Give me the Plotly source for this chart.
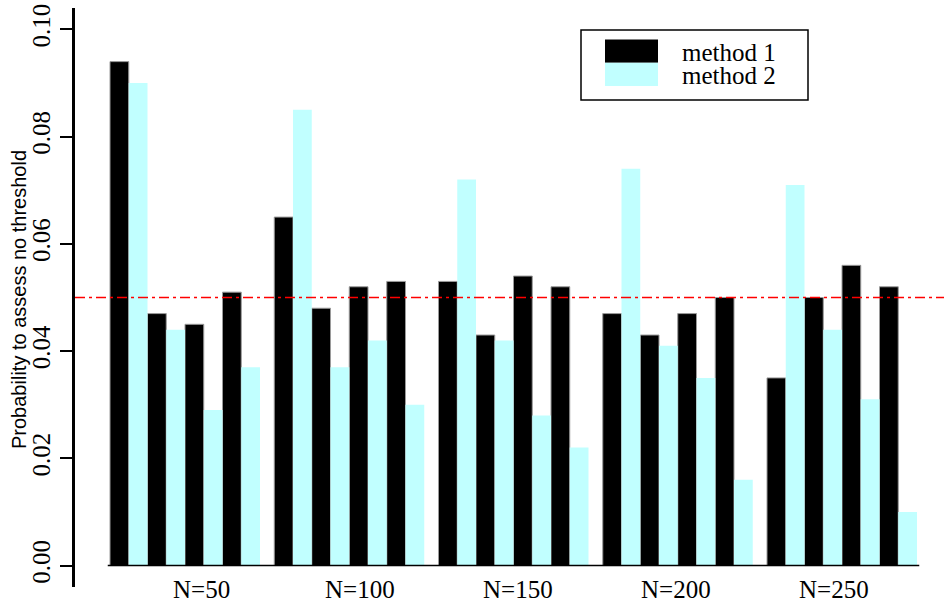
import plotly.graph_objects as go

# ---- data -------------------------------------------------------------
groups = ["N=50", "N=100", "N=150", "N=200", "N=250"]
series_names = ["method 1", "method 2"]

# four settings per sample size, one value per method
method1 = [
    [0.094, 0.047, 0.045, 0.051],
    [0.065, 0.048, 0.052, 0.053],
    [0.053, 0.043, 0.054, 0.052],
    [0.047, 0.043, 0.047, 0.050],
    [0.035, 0.050, 0.056, 0.052],
]
method2 = [
    [0.090, 0.044, 0.029, 0.037],
    [0.085, 0.037, 0.042, 0.030],
    [0.072, 0.042, 0.028, 0.022],
    [0.074, 0.041, 0.035, 0.016],
    [0.071, 0.044, 0.031, 0.010],
]
y_ticks = [0.00, 0.02, 0.04, 0.06, 0.08, 0.10]
y_tick_labels = ["0.00", "0.02", "0.04", "0.06", "0.08", "0.10"]
threshold = 0.05

# ---- styling / geometry -----------------------------------------------
W, H = 944, 604
ML, MR, MT, MB = 75, 0, 8, 17
colors = ["#000000", "#C1FFFF"]
SERIF = "Liberation Serif, Times New Roman, serif"
SANS = "Liberation Sans, Arial, sans-serif"

GROUP_STEP = 8.76          # distance between group starts, in bar widths
LABEL_START, LABEL_STEP = 4.89, 8.43
BAR_PX = 18.75             # pixel width of one bar
FIRST_BAR_PX = 110         # pixel position of first bar's left edge
x_range = [(ML - FIRST_BAR_PX) / BAR_PX, (W - MR - FIRST_BAR_PX) / BAR_PX]

pw, ph = W - ML - MR, H - MT - MB


def px(xp):
    return (xp - ML) / pw


def py(yp):
    return 1 - (yp - MT) / ph


# bar positions: each group holds 4 adjacent pairs (method 1, method 2)
xs = [[], []]
ys = [[], []]
for g in range(len(groups)):
    for p in range(len(method1[g])):
        base = g * GROUP_STEP + 2 * p
        xs[0].append(base + 0.5)
        ys[0].append(method1[g][p])
        xs[1].append(base + 1.5)
        ys[1].append(method2[g][p])

fig = go.Figure()
fig.add_trace(go.Bar(
    x=xs[0], y=ys[0], width=1, name=series_names[0],
    marker=dict(color=colors[0], line=dict(color="#9a9a9a", width=1)),
))
fig.add_trace(go.Bar(
    x=xs[1], y=ys[1], width=1, name=series_names[1],
    marker=dict(color=colors[1], line=dict(width=0)),
))

shapes = []
# baseline under the bars
bar_left = min(xs[0]) - 0.5
bar_right = max(xs[1]) + 0.5
shapes.append(dict(type="line", xref="x", yref="y",
                   x0=bar_left - 0.12, x1=bar_right + 0.12, y0=0, y1=0,
                   line=dict(color="black", width=1.5)))
# nominal level
shapes.append(dict(type="line", xref="paper", yref="y",
                   x0=0, x1=1, y0=threshold, y1=threshold,
                   line=dict(color="#FF0000", width=1.6, dash="10px,4px,3px,4px")))

# legend box with stacked swatches
shapes.append(dict(type="rect", xref="paper", yref="paper",
                   x0=px(581), x1=px(808), y0=py(30), y1=py(100),
                   line=dict(color="black", width=1.5), fillcolor="white"))
shapes.append(dict(type="rect", xref="paper", yref="paper",
                   x0=px(605), x1=px(658), y0=py(39.5), y1=py(62.7),
                   line=dict(width=0), fillcolor=colors[0]))
shapes.append(dict(type="rect", xref="paper", yref="paper",
                   x0=px(605), x1=px(658), y0=py(62.7), y1=py(86),
                   line=dict(width=0), fillcolor=colors[1]))

annotations = []
for i, name in enumerate(series_names):
    annotations.append(dict(
        text=name, xref="paper", yref="paper",
        x=px(681), y=py(51.5 + 23.3 * i), xanchor="left", yanchor="middle",
        height=22, borderpad=0,
        showarrow=False, font=dict(family=SERIF, size=25, color="black"),
    ))

# group labels under the axis
for g, lab in enumerate(groups):
    annotations.append(dict(
        text=lab, xref="x", yref="paper",
        x=LABEL_START + g * LABEL_STEP, y=py(589), xanchor="center", yanchor="middle",
        showarrow=False, font=dict(family=SERIF, size=25, color="black"),
    ))

# y-axis title
annotations.append(dict(
    text="Probability to assess no threshold", xref="paper", yref="paper",
    x=0, xshift=19 - ML, y=py(300), xanchor="center", yanchor="middle",
    textangle=-90, showarrow=False, font=dict(family=SANS, size=20, color="black"),
))

fig.update_layout(
    width=W, height=H,
    margin=dict(l=ML, r=MR, t=MT, b=MB, pad=0),
    paper_bgcolor="white", plot_bgcolor="white",
    barmode="overlay", showlegend=False,
    shapes=shapes, annotations=annotations,
    xaxis=dict(range=x_range, visible=False, fixedrange=True),
    yaxis=dict(
        range=[-0.004, 0.104], tickvals=y_ticks, ticktext=y_tick_labels,
        tickangle=-90, ticks="outside", ticklen=12, tickwidth=1.5, tickcolor="black",
        showline=True, linewidth=2.5, linecolor="black",
        showgrid=False, zeroline=False,
        tickfont=dict(family=SERIF, size=25, color="black"),
    ),
)

fig.write_html("out.html")
